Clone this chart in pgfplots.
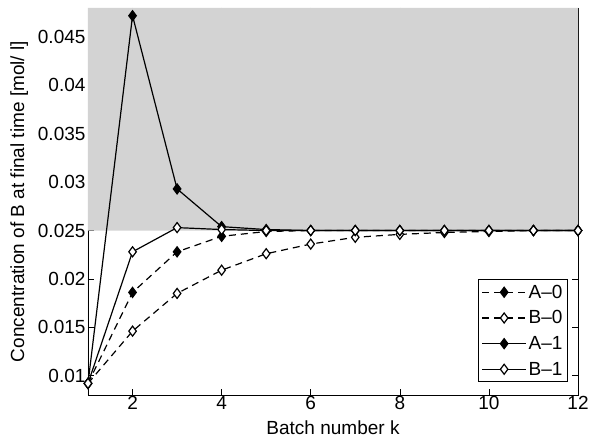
\documentclass[border=0pt]{standalone}
\usepackage{fontspec}
\setmainfont{Liberation Sans}
\usepackage{pgfplots}
\pgfplotsset{compat=1.18}
\definecolor{shade}{RGB}{211,211,211}
\newcommand{\myfont}{\fontsize{19}{22}\selectfont}
\begin{document}
\begin{tikzpicture}
\path[use as bounding box] (-88pt,-48pt) rectangle (504pt,395pt);
\begin{axis}[
  at={(0,0)}, anchor=south west,
  scale only axis, width=490pt, height=387pt,
  xmin=1, xmax=12, ymin=0.008, ymax=0.048,
  scaled y ticks=false, scaled x ticks=false,
  xtick={2,4,6,8,10,12},
  ytick={0.01,0.015,0.02,0.025,0.03,0.035,0.04,0.045},
  yticklabels={0.01,0.015,0.02,0.025,0.03,0.035,0.04,0.045},
  tick align=inside, major tick length=6pt,
  tick style={black, line width=0.6pt},
  axis line style={line width=0.9pt},
  tick label style={font=\myfont},
  xticklabel style={yshift=2pt},
  yticklabel style={xshift=1pt},
  label style={font=\myfont},
  /pgf/number format/assume math mode=true,
  xlabel={Batch number k},
  ylabel={Concentration of B at final time [mol/ l]},
  xlabel style={yshift=-4pt},
  ylabel style={yshift=3pt},
  legend style={at={(0.9796,0.0336)}, anchor=south east, draw=black, line width=0.9pt, font=\myfont, row sep=7pt, inner ysep=3pt, inner xsep=3pt},
  legend cell align=left,
  legend image code/.code={\draw[#1] (0pt,0pt) -- (44pt,0pt); \draw[#1] plot coordinates {(22pt,0pt)};},
  clip=false,
]
\addplot[fill=shade, draw=none, forget plot] coordinates {(1,0.025) (12,0.025) (12,0.048) (1,0.048)} \closedcycle;
\addplot[black, line width=1.2pt, dash pattern=on 7pt off 5pt, mark=diamond*, mark size=5pt, mark options={solid, fill=black}] coordinates {
(1,0.0092) (2,0.0186) (3,0.0228) (4,0.0244) (5,0.0249) (6,0.0250) (7,0.0250) (8,0.0250) (9,0.0250) (10,0.0250) (11,0.0250) (12,0.0250)};
\addlegendentry{A--0}
\addplot[black, line width=1.2pt, dash pattern=on 7pt off 5pt, mark=diamond*, mark size=5pt, mark options={solid, fill=white}] coordinates {
(1,0.0092) (2,0.0146) (3,0.0185) (4,0.0209) (5,0.0226) (6,0.0236) (7,0.0243) (8,0.0246) (9,0.0248) (10,0.0249) (11,0.0250) (12,0.0250)};
\addlegendentry{B--0}
\addplot[black, line width=1.2pt, mark=diamond*, mark size=5pt, mark options={solid, fill=black}] coordinates {
(1,0.0092) (2,0.0472) (3,0.0293) (4,0.0254) (5,0.0251) (6,0.0250) (7,0.0250) (8,0.0250) (9,0.0250) (10,0.0250) (11,0.0250) (12,0.0250)};
\addlegendentry{A--1}
\addplot[black, line width=1.2pt, mark=diamond*, mark size=5pt, mark options={solid, fill=white}] coordinates {
(1,0.0092) (2,0.0228) (3,0.0253) (4,0.0251) (5,0.0250) (6,0.0250) (7,0.0250) (8,0.0250) (9,0.0250) (10,0.0250) (11,0.0250) (12,0.0250)};
\addlegendentry{B--1}
\end{axis}
\end{tikzpicture}
\end{document}
